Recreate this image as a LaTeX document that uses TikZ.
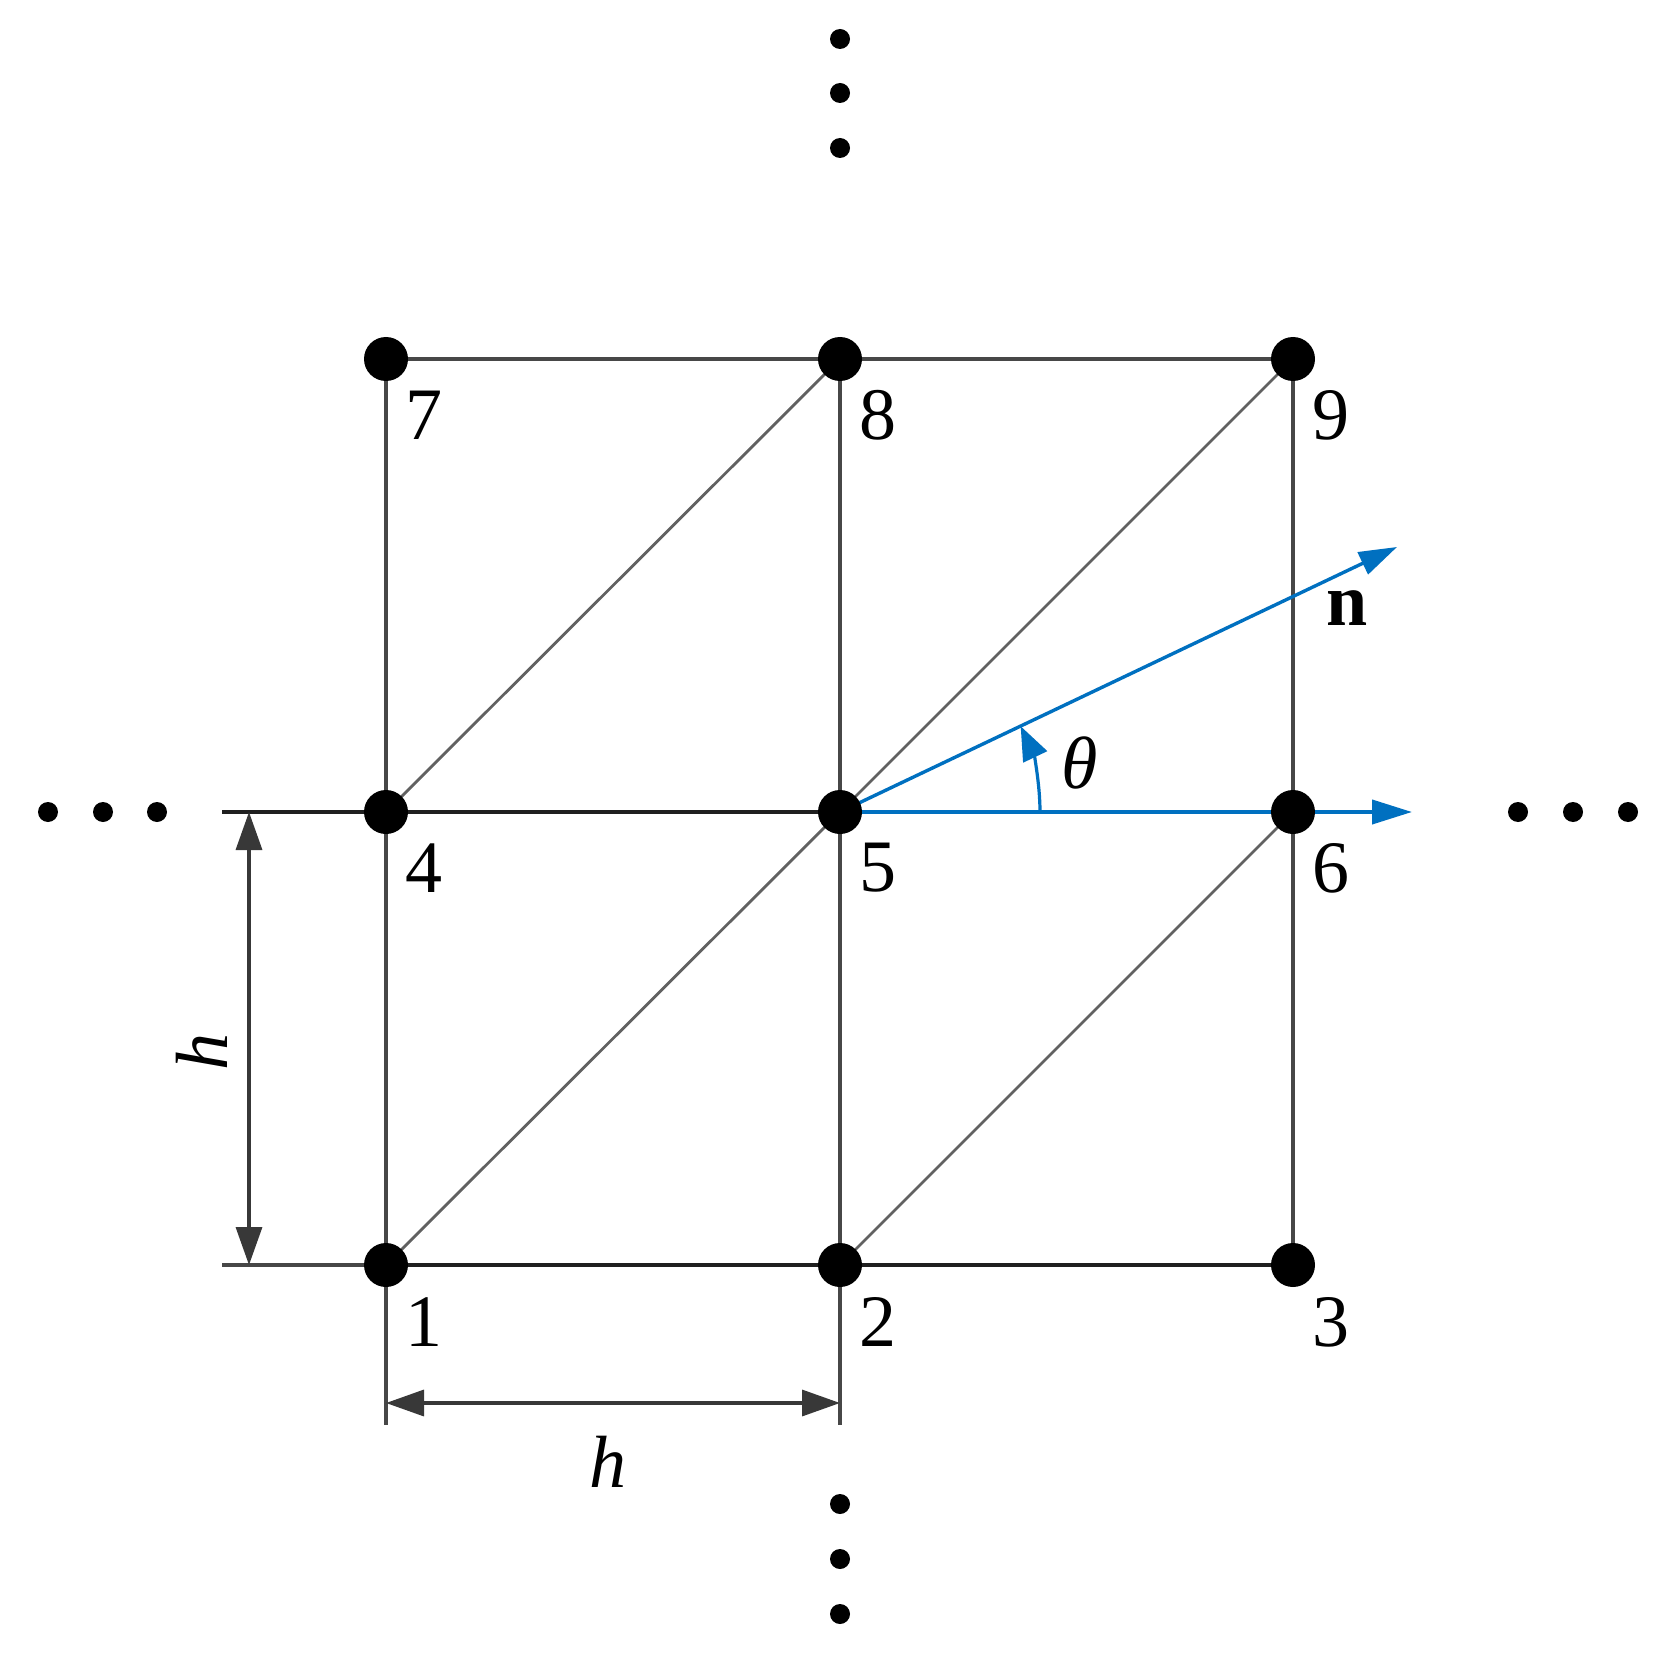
\documentclass[tikz,border=0pt]{standalone}
\usepackage{fontspec}
\setmainfont{Liberation Serif}
\usetikzlibrary{arrows.meta}
\definecolor{nblue}{RGB}{0,112,192}
\begin{document}
\begin{tikzpicture}[x=0.5pt,y=-0.5pt,
  gridline/.style={line width=1.8pt,draw=black!72},
  darkline/.style={line width=2pt,draw=black!88},
  diagline/.style={line width=1.4pt,draw=black!62},
  nodedot/.style={circle,fill=black,inner sep=0pt,minimum size=22pt},
  lab/.style={inner sep=0pt,font=\fontsize{37}{44}\selectfont},
  dimarrow/.style={line width=1.7pt,draw=black!78,{Triangle[length=19pt,width=13pt]}-{Triangle[length=19pt,width=13pt]}},
  vecarrow/.style={line width=2pt,draw=nblue,-{Triangle[length=20pt,width=12pt]}},
  nvecarrow/.style={line width=1.7pt,draw=nblue,-{Triangle[length=19pt,width=12pt]}},
  anglearrow/.style={line width=1.6pt,draw=nblue,-{Triangle[length=17pt,width=13pt]}},
  ell/.style={fill=black}
]
\fill[white] (0,0) rectangle (1666,1653);
\useasboundingbox (0,0) rectangle (1666,1653);

% grid points
\coordinate (p1) at (386,1265);
\coordinate (p2) at (840,1265);
\coordinate (p3) at (1293,1265);
\coordinate (p4) at (386,812);
\coordinate (p5) at (840,812);
\coordinate (p6) at (1293,812);
\coordinate (p7) at (386,359);
\coordinate (p8) at (840,359);
\coordinate (p9) at (1293,359);
% auxiliary ends
\coordinate (l4) at (222,812);
\coordinate (l1) at (222,1265);
\coordinate (e1) at (386,1425);
\coordinate (e2) at (840,1425);
\coordinate (dv1) at (249,812);
\coordinate (dv2) at (249,1265);
\coordinate (dh1) at (386,1403);
\coordinate (dh2) at (840,1403);
\coordinate (htip) at (1412,812);
\coordinate (ntip) at (1397,547);
\coordinate (arcstart) at (1040,812);

% grid lines
\draw[gridline] (p7) -- (p8) -- (p9);
\draw[gridline] (p7) -- (e1);
\draw[gridline] (p8) -- (e2);
\draw[gridline] (p9) -- (p3);
\draw[darkline] (l4) -- (p5);
\draw[darkline] (p1) -- (p3);
\draw[gridline] (l1) -- (p1);
% diagonals
\draw[diagline] (p4) -- (p8);
\draw[diagline] (p1) -- (p5);
\draw[diagline] (p5) -- (p9);
\draw[diagline] (p2) -- (p6);

% dimensions
\draw[dimarrow] (dv1) -- (dv2);
\draw[dimarrow] (dh1) -- (dh2);
\node[lab,rotate=90] (hv) at (202,1052) {\textit{h}};
\node[lab] (hh) at (608,1462) {\textit{h}};

% vectors
\draw[vecarrow] (p5) -- (htip);
\draw[nvecarrow] (p5) -- (ntip);
\draw[anglearrow] (arcstart) arc[start angle=0,end angle=-25.4,radius=200];
\node[lab] (theta) at (1080,763) {\textit{θ}};
\node[lab] (nlab) at (1347,608) {\textbf{n}};

% node dots
\foreach \i in {1,...,9} {\node[nodedot] (n\i) at (p\i) {};}

% node labels
\node[lab] (t1) at (424,1322) {1};
\node[lab] (t2) at (878,1322) {2};
\node[lab] (t3) at (1331,1322) {3};
\node[lab] (t4) at (424,868) {4};
\node[lab] (t5) at (878,868) {5};
\node[lab] (t6) at (1331,868) {6};
\node[lab] (t7) at (424,415) {7};
\node[lab] (t8) at (878,415) {8};
\node[lab] (t9) at (1331,415) {9};

% ellipsis dots
\foreach \x in {48,103,157} {\fill[ell] (\x,812) circle[radius=10];}
\foreach \x in {1518,1573,1628} {\fill[ell] (\x,812) circle[radius=10];}
\foreach \y in {39,93,148} {\fill[ell] (840,\y) circle[radius=10];}
\foreach \y in {1504,1559,1614} {\fill[ell] (840,\y) circle[radius=10];}
\end{tikzpicture}
\end{document}
